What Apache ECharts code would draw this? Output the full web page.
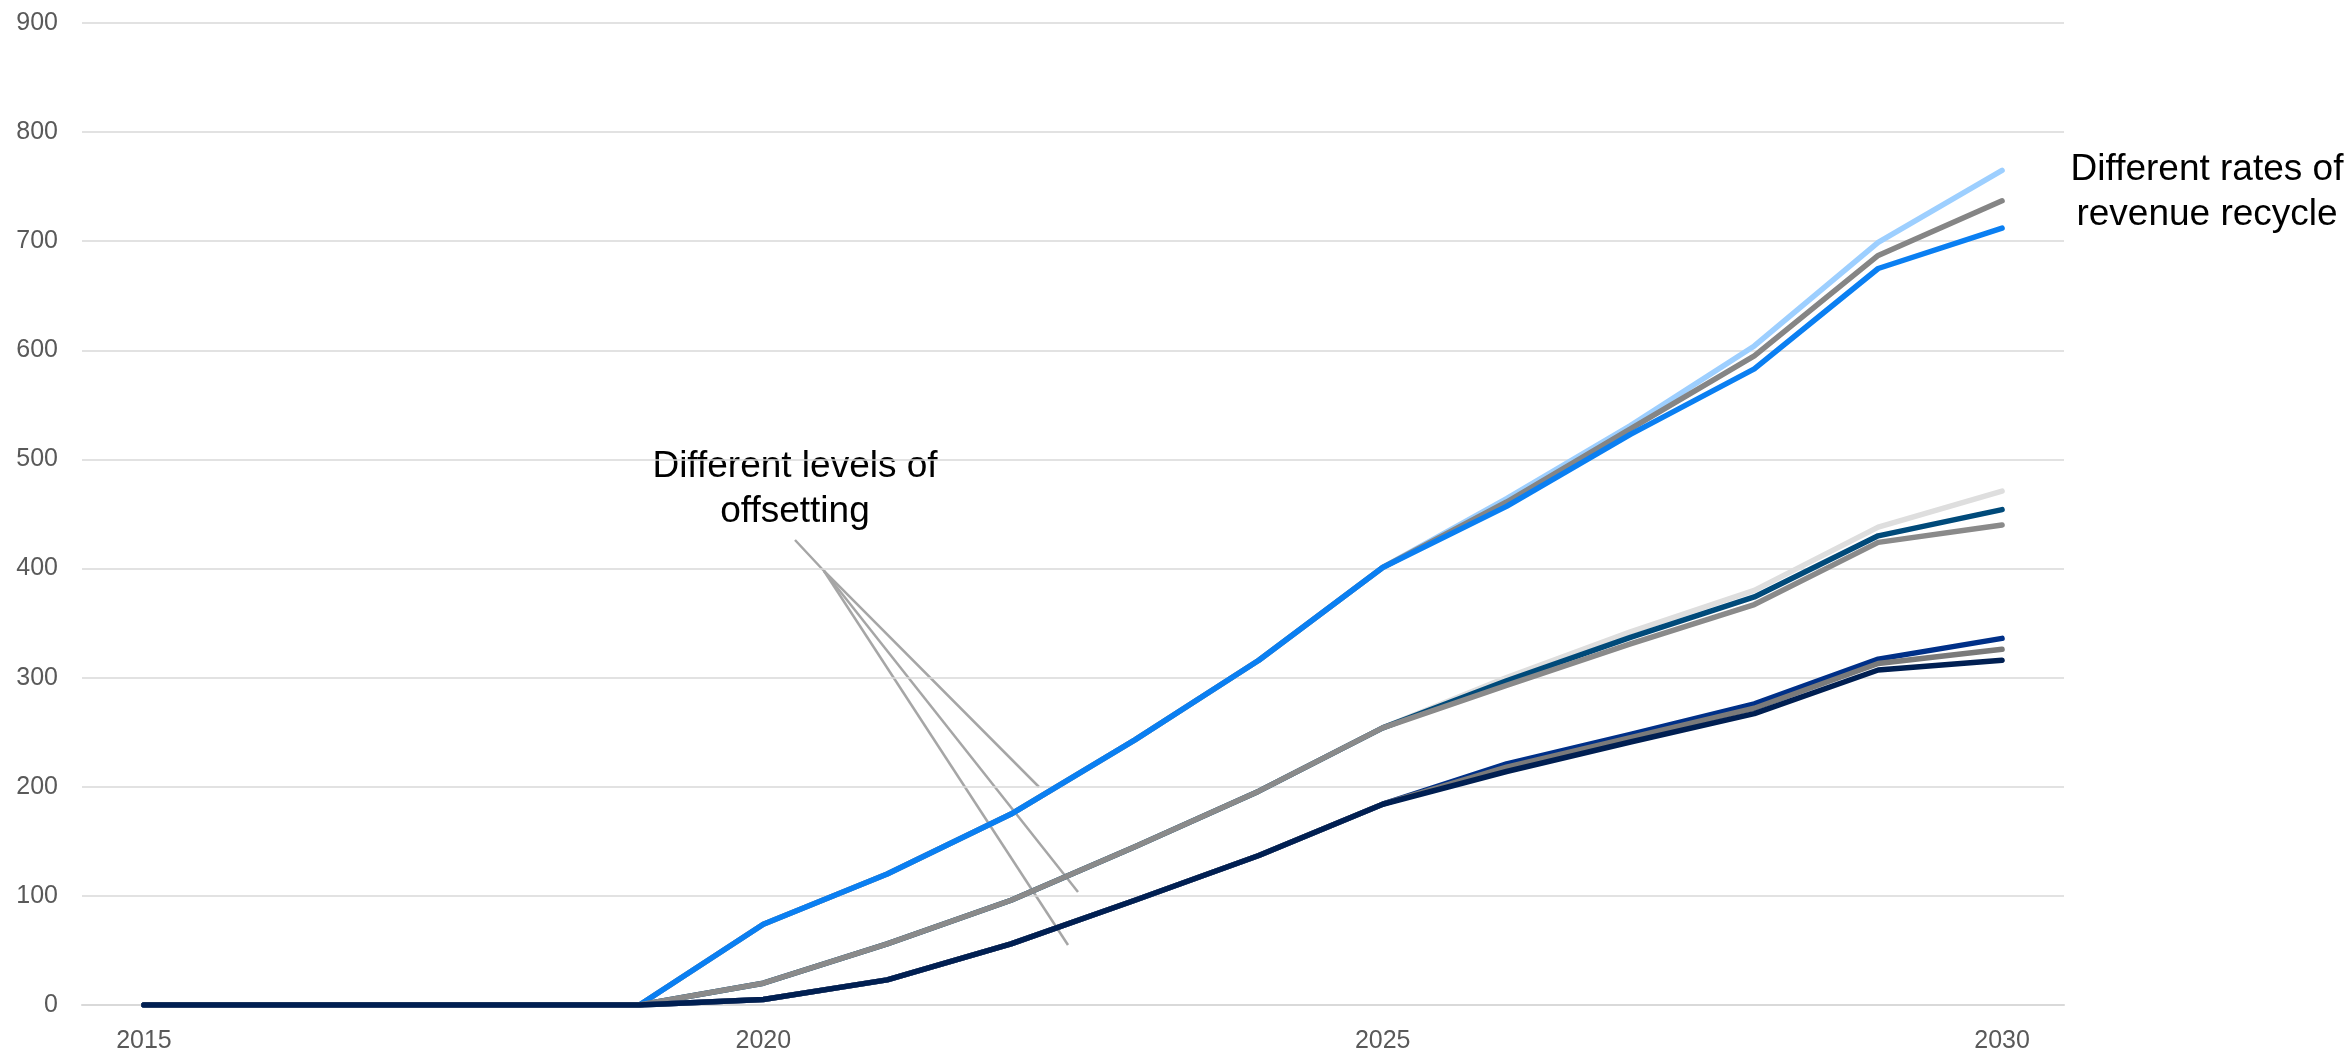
<!DOCTYPE html>
<html>
<head>
<meta charset="utf-8">
<script src="https://cdn.jsdelivr.net/npm/echarts@6/dist/echarts.min.js"></script>
<style>
  html, body { margin: 0; padding: 0; background: #fff; }
  #chart { width: 2351px; height: 1056px; }
</style>
</head>
<body>
<div id="chart"></div>
<script>
// years on the x axis
const years = ["2015", "2016", "2017", "2018", "2019", "2020", "2021", "2022",
  "2023", "2024", "2025", "2026", "2027", "2028", "2029", "2030"];

// top group (different rates of revenue recycle)
const highLight = [0, 0, 0, 0, 0, 74, 120, 175, 243, 316, 401, 464, 531, 604, 699, 765];
const highGray  = [0, 0, 0, 0, 0, 74, 120, 175, 243, 316, 401, 461, 528, 595, 687, 737];
const highBlue  = [0, 0, 0, 0, 0, 74, 120, 175, 243, 316, 401, 457, 523, 583, 675, 712];

// middle group
const midLight = [0, 0, 0, 0, 0, 20, 56, 96, 145, 196, 254, 300, 342, 380, 438, 471];
const midTeal  = [0, 0, 0, 0, 0, 20, 56, 96, 145, 196, 254, 297, 337, 374, 430, 454];
const midGray  = [0, 0, 0, 0, 0, 20, 56, 96, 145, 196, 254, 293, 331, 367, 424, 440];

// bottom group
const lowBlue = [0, 0, 0, 0, 0, 5, 23, 56, 96, 137, 184, 221, 248, 276, 317, 336];
const lowGray = [0, 0, 0, 0, 0, 5, 23, 56, 96, 137, 184, 218, 245, 272, 313, 326];
const lowNavy = [0, 0, 0, 0, 0, 5, 23, 56, 96, 137, 184, 214, 241, 267, 307, 316];

const font = "Liberation Sans, Arial, sans-serif";

function line(name, data, color) {
  return {
    name: name,
    type: "line",
    data: data,
    symbol: "none",
    lineStyle: { color: color, width: 5.5, cap: "round", join: "round" },
    emphasis: { disabled: true },
  };
}

var chart = echarts.init(document.getElementById("chart"));
chart.setOption({
  animation: false,
  grid: { left: 82, right: 287, top: 23, bottom: 51 },
  xAxis: {
    type: "category",
    data: years,
    boundaryGap: true,
    axisLine: { lineStyle: { color: "#d9d9d9", width: 2 } },
    axisTick: { show: false },
    axisLabel: {
      interval: 4,
      margin: 24,
      fontSize: 25,
      color: "#595959",
      fontFamily: font,
    },
  },
  yAxis: {
    type: "value",
    min: 0,
    max: 900,
    interval: 100,
    axisLine: { show: false },
    axisTick: { show: false },
    splitLine: { lineStyle: { color: "#d9d9d9", width: 1.5 } },
    axisLabel: { margin: 24, fontSize: 25, color: "#595959", fontFamily: font },
  },
  series: [
    line("high light", highLight, "#9dcfff"),
    line("high gray", highGray, "#858585"),
    line("high blue", highBlue, "#0a7ff2"),
    line("mid light", midLight, "#dedede"),
    line("mid teal", midTeal, "#004a7a"),
    line("mid gray", midGray, "#8a8a8a"),
    line("low blue", lowBlue, "#003088"),
    line("low gray", lowGray, "#7a7a7a"),
    line("low navy", lowNavy, "#001f52"),
  ],
  graphic: [
    {
      type: "text",
      style: {
        text: "Different rates of\nrevenue recycle",
        x: 2207, y: 147,
        fill: "#000",
        font: "37px " + font,
        lineHeight: 45,
        align: "center",
      },
    },
    {
      type: "text",
      style: {
        text: "Different levels of\noffsetting",
        x: 795, y: 444,
        fill: "#000",
        font: "37px " + font,
        lineHeight: 45,
        align: "center",
      },
    },
    {
      type: "polyline",
      shape: { points: [[795, 540], [824, 571], [1039, 787]] },
      style: { stroke: "#a6a6a6", lineWidth: 2.5, fill: null },
    },
    {
      type: "line",
      shape: { x1: 824, y1: 571, x2: 1078, y2: 892 },
      style: { stroke: "#a6a6a6", lineWidth: 2.5 },
    },
    {
      type: "line",
      shape: { x1: 824, y1: 571, x2: 1068, y2: 945 },
      style: { stroke: "#a6a6a6", lineWidth: 2.5 },
    },
  ],
});
</script>
</body>
</html>
